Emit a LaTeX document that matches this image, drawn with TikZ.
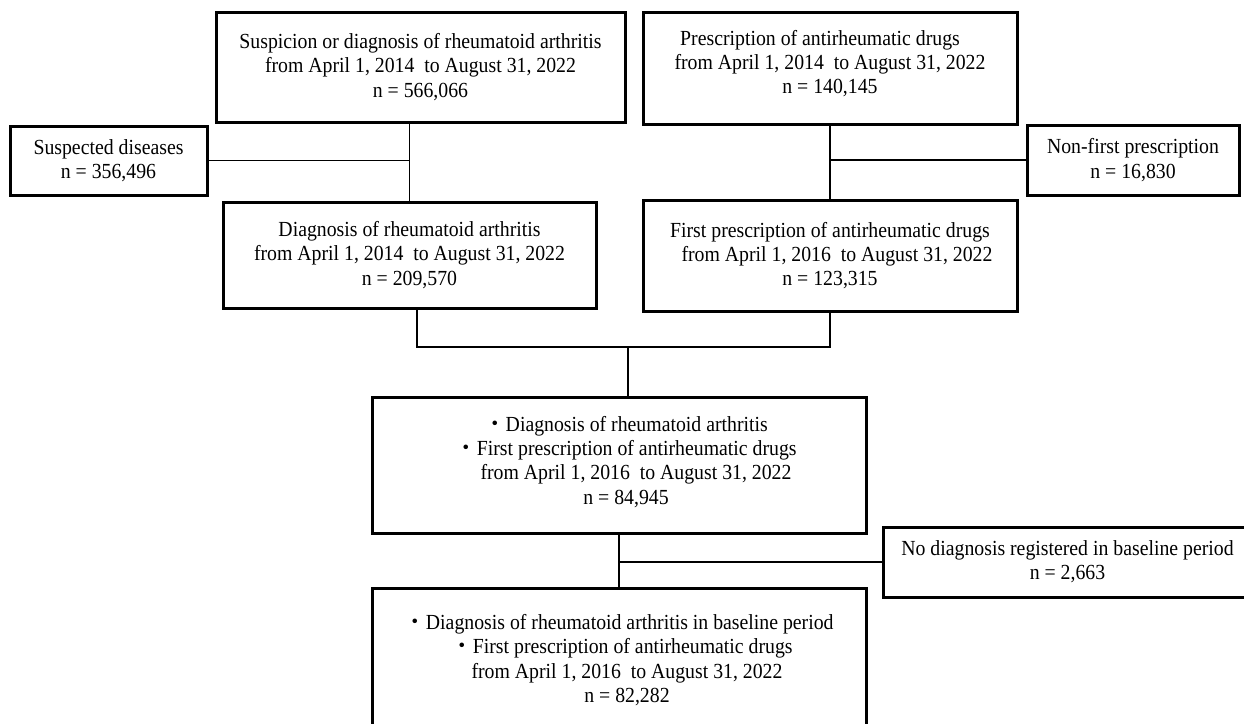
\documentclass[tikz,border=0pt]{standalone}
\usepackage{fontspec}
\setmainfont{Liberation Serif}[FakeStretch=0.92]
\newfontfamily\cjk{Noto Sans CJK JP}
\usepackage{tikz}
\newcommand{\bul}{{\cjk ・}}
\tikzset{
  flowbox/.style={draw, line width=3pt, align=center, inner sep=0pt,
    font=\fontsize{21.5}{24.3}\selectfont},
  link/.style={line width=1.3pt}
}

\begin{document}
\begin{tikzpicture}[x=1pt,y=-1pt]
\useasboundingbox (0,0) rectangle (1244,723);
\clip (0,0) rectangle (1244,723);

% top row
\node[flowbox, minimum width=409, minimum height=110] (suspRA) at (420.5,67)
  {Suspicion or diagnosis of rheumatoid arthritis\\from April 1, 2014\ \ to August 31, 2022\\n = 566,066};
\node[flowbox, minimum width=374, minimum height=112] (presc) at (830,68)
  {Prescription of antirheumatic drugs\hspace*{20pt}\\from April 1, 2014\ \ to August 31, 2022\\n = 140,145\rule[-12pt]{0pt}{12pt}};

% exclusions
\node[flowbox, minimum width=197, minimum height=69] (suspDis) at (108.5,160.5)
  {Suspected diseases\\n = 356,496};
\node[flowbox, minimum width=212, minimum height=70] (nonFirst) at (1133,160)
  {Non-first prescription\\n = 16,830};

% second row
\node[flowbox, minimum width=373, minimum height=106] (diagRA) at (409.5,255)
  {Diagnosis of rheumatoid arthritis\\from April 1, 2014\ \ to August 31, 2022\\n = 209,570};
\node[flowbox, minimum width=374, minimum height=111] (firstPresc) at (830,255.5)
  {First prescription of antirheumatic drugs\\\hspace*{14pt}from April 1, 2016\ \ to August 31, 2022\\n = 123,315};

% merged cohort
\node[flowbox, minimum width=494, minimum height=136] (both) at (619,465)
  {\hspace*{14pt}\bul Diagnosis of rheumatoid arthritis\\
   \hspace*{14pt}\bul First prescription of antirheumatic drugs\\
   \hspace*{34pt}from April 1, 2016\ \ to August 31, 2022\\
   \hspace*{14pt}n = 84,945\rule[-10pt]{0pt}{10pt}};
\node[flowbox, minimum width=369, minimum height=70] (noBase) at (1067.5,562)
  {No diagnosis registered in baseline period\\n = 2,663};
\node[flowbox, minimum width=494, minimum height=144] (final) at (619,660)
  {\bul Diagnosis of rheumatoid arthritis in baseline period\\
   \hspace*{6pt}\bul First prescription of antirheumatic drugs\\
   \hspace*{16pt}from April 1, 2016\ \ to August 31, 2022\\
   \hspace*{16pt}n = 82,282};

% connectors
\draw[link] (suspRA.south -| diagRA.north) -- (diagRA.north);
\draw[link] (suspDis.east) -- (suspDis.east -| diagRA.north);
\draw[link] (presc.south) -- (firstPresc.north);
\draw[link] (nonFirst.west) -- (nonFirst.west -| presc.south);

\coordinate (joinL) at (417,347);
\coordinate (joinR) at (830,347);
\coordinate (joinM) at (628,347);
\draw[link] (diagRA.south -| joinL) -- (joinL) -- (joinR) -- (firstPresc.south);
\draw[link] (joinM) -- (joinM |- both.north);

\draw[link] (both.south) -- (final.north);
\draw[link] (noBase.west) -- (noBase.west -| both.south);
\end{tikzpicture}
\end{document}
